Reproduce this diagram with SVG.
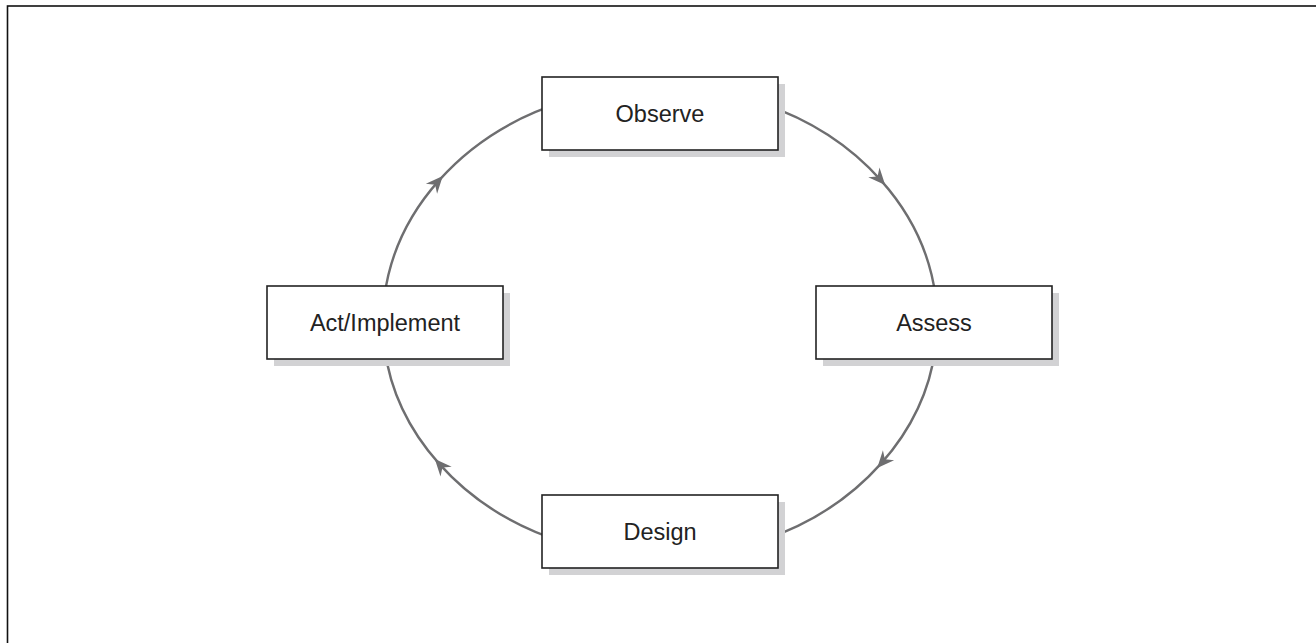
<svg xmlns="http://www.w3.org/2000/svg" width="1316" height="643" viewBox="0 0 1316 643">
  <defs>
    <style>
      .frame { fill: none; stroke: #111; stroke-width: 1.6; }
      .link { fill: none; stroke: #6e6e70; stroke-width: 2.4; marker-mid: url(#arrow); }
      .shadow { fill: #d2d2d4; }
      .box { fill: #ffffff; stroke: #222; stroke-width: 1.6; }
      .label { font-family: "Liberation Sans", Arial, sans-serif; font-size: 23.5px; fill: #222; text-anchor: middle; }
    </style>
    <marker id="arrow" markerUnits="userSpaceOnUse" markerWidth="24" markerHeight="24" viewBox="-14 -10 24 20" refX="0" refY="0" orient="auto">
      <path d="M6,0 L-11,-7.5 L-5.5,0 L-11,7.5 Z" fill="#6e6e70"/>
    </marker>
  </defs>

  <rect width="1316" height="643" fill="#ffffff"/>
  <!-- outer frame, right and bottom edges run off the page -->
  <rect class="frame" x="7.5" y="6" width="1330" height="660"/>

  <!-- cycle connectors along one ellipse, centre (660,322), radii 277 x 235 -->
  <g id="connectors">
    <path class="link" d="M 754.7 101.2 A 277 235 0 0 1 881.2 180.6 A 277 235 0 0 1 935.5 296"/>
    <path class="link" d="M 935.5 348 A 277 235 0 0 1 881.2 463.4 A 277 235 0 0 1 754.7 542.8"/>
    <path class="link" d="M 565.3 542.8 A 277 235 0 0 1 438.8 463.4 A 277 235 0 0 1 384.5 348"/>
    <path class="link" d="M 384.5 296 A 277 235 0 0 1 438.8 180.6 A 277 235 0 0 1 565.3 101.2"/>
  </g>

  <g id="observe">
    <rect class="shadow" x="549" y="84" width="236" height="73"/>
    <rect class="box" x="542" y="77" width="236" height="73"/>
    <text class="label" x="660" y="121.5">Observe</text>
  </g>

  <g id="assess">
    <rect class="shadow" x="823" y="293" width="236" height="73"/>
    <rect class="box" x="816" y="286" width="236" height="73"/>
    <text class="label" x="934" y="330.5">Assess</text>
  </g>

  <g id="design">
    <rect class="shadow" x="549" y="502" width="236" height="73"/>
    <rect class="box" x="542" y="495" width="236" height="73"/>
    <text class="label" x="660" y="539.5">Design</text>
  </g>

  <g id="act-implement">
    <rect class="shadow" x="274" y="293" width="236" height="73"/>
    <rect class="box" x="267" y="286" width="236" height="73"/>
    <text class="label" x="385" y="330.5">Act/Implement</text>
  </g>
</svg>
